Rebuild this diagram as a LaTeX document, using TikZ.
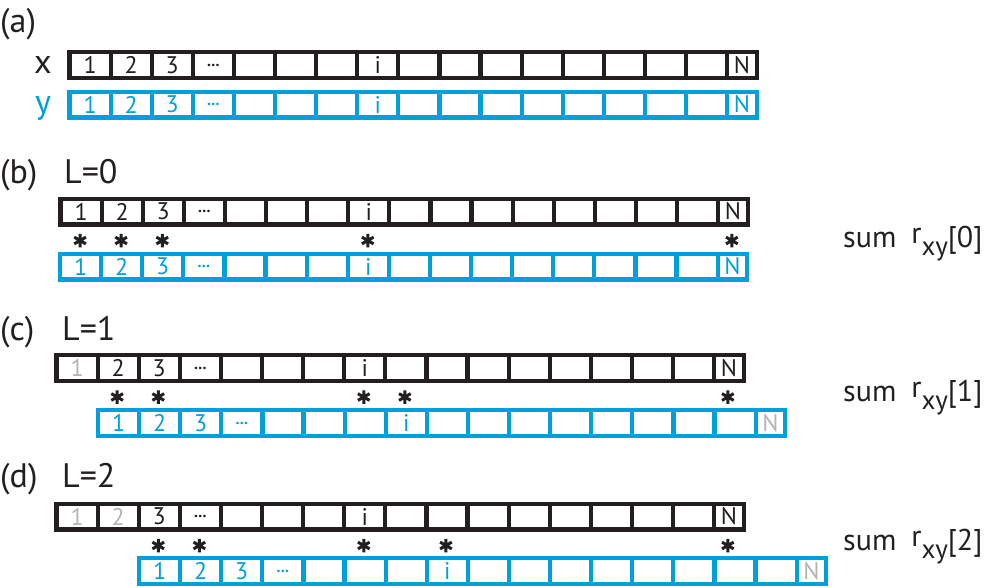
\documentclass[tikz,border=0pt]{standalone}
\usepackage{fontspec}
\setmainfont{PT Sans}
\usepackage{tikz}
\usetikzlibrary{calc,positioning}

\definecolor{darkline}{RGB}{35,31,32}
\definecolor{blueline}{RGB}{0,160,218}
\definecolor{gone}{RGB}{180,180,180}

\newcommand{\celldots}{{\fontsize{16}{16}\selectfont\bfseries...}}
\newcommand{\rxy}[1]{\raisebox{4pt}{r}\raisebox{-8pt}{\fontsize{27}{30}\selectfont xy}[#1]}

\begin{document}
\begin{tikzpicture}[
        %pixel units, y pointing down
        x=1pt, y=-1pt,
        cell/.style={draw, rectangle, line width=4.2pt, inner sep=0pt, outer sep=0pt,
            minimum width=41.1pt, minimum height=25.8pt, fill=white,
            font=\fontsize{24}{28}\selectfont},
        xcell/.style={cell, draw=darkline, text=darkline},
        ycell/.style={cell, draw=blueline, text=blueline},
        ncell/.style={minimum width=29.5pt},
        lbl/.style={inner sep=0pt, text=darkline, font=\fontsize{34}{38}\selectfont},
        sumlbl/.style={lbl, anchor=base west, font=\fontsize{30}{34}\selectfont},
        star/.style={circle, inner sep=0pt, outer sep=0pt, minimum size=13.5pt},
        starline/.style={draw=darkline, line width=3pt}
     ]
    \useasboundingbox (0,0) rectangle (987,587);

    % (a) the two signals
    \node[lbl, anchor=base west] (alab) at (0,32) {(a)};
    \node[lbl, anchor=base] (xlab) at (43,73) {x};
    \node[lbl, anchor=base, text=blueline] (ylab) at (43,113) {y};
    \coordinate (ax0) at (69.5,65);
    \coordinate (ay0) at (69.5,104.5);
    \foreach \t [count=\k] in {1,2,3,\celldots,{},{},{},i,{},{},{},{},{},{},{},{}} {
        \node[xcell] (ax\k) at ($(ax0)+({(\k-0.5)*41.1},0)$) {\t};
        \node[ycell] (ay\k) at ($(ay0)+({(\k-0.5)*41.1},0)$) {\t};
    }
    \node[xcell, ncell, right=0pt of ax16] (ax17) {N};
    \node[ycell, ncell, right=0pt of ay16] (ay17) {N};

    % (b) L=0
    \node[lbl, anchor=base west] (blab) at (0,183) {(b)};
    \node[lbl, anchor=base west] (bL) at (64,183) {L=0};
    \coordinate (bx0) at (60.5,211.5);
    \coordinate (by0) at (60,266.5);
    \foreach \t [count=\k] in {1,2,3,\celldots,{},{},{},i,{},{},{},{},{},{},{},{}} {
        \node[xcell] (bx\k) at ($(bx0)+({(\k-0.5)*41.1},0)$) {\t};
        \node[ycell] (by\k) at ($(by0)+({(\k-0.5)*41.1},0)$) {\t};
    }
    \node[xcell, ncell, right=0pt of bx16] (bx17) {N};
    \node[ycell, ncell, right=0pt of by16] (by17) {N};
    \foreach \k in {1,2,3,8,17} {
        \node[star] (bs\k) at ($(bx\k)+(-1,29)$) {};
        \draw[starline] (bs\k.90) -- (bs\k.270) (bs\k.30) -- (bs\k.210) (bs\k.150) -- (bs\k.330);
    }
    \node[sumlbl] (bsum) at (843,247) {sum\hspace{15pt}\rxy{0}};

    % (c) L=1
    \node[lbl, anchor=base west] (clab) at (0,340) {(c)};
    \node[lbl, anchor=base west] (cL) at (62,340) {L=1};
    \coordinate (cx0) at (56.5,368);
    \coordinate (cy0) at (98,423);
    \foreach \t [count=\k] in {{\color{gone}1},2,3,\celldots,{},{},{},i,{},{},{},{},{},{},{},{}}
        \node[xcell] (cx\k) at ($(cx0)+({(\k-0.5)*41.1},0)$) {\t};
    \foreach \t [count=\k] in {1,2,3,\celldots,{},{},{},i,{},{},{},{},{},{},{},{}}
        \node[ycell] (cy\k) at ($(cy0)+({(\k-0.5)*41.1},0)$) {\t};
    \node[xcell, ncell, right=0pt of cx16] (cx17) {N};
    \node[ycell, ncell, text=gone, right=0pt of cy16] (cy17) {N};
    \foreach \k in {2,3,8,9,17} {
        \node[star] (cs\k) at ($(cx\k)+(-1,29)$) {};
        \draw[starline] (cs\k.90) -- (cs\k.270) (cs\k.30) -- (cs\k.210) (cs\k.150) -- (cs\k.330);
    }
    \node[sumlbl] (csum) at (843,401) {sum\hspace{15pt}\rxy{1}};

    % (d) L=2
    \node[lbl, anchor=base west] (dlab) at (0,487) {(d)};
    \node[lbl, anchor=base west] (dL) at (62,487) {L=2};
    \coordinate (dx0) at (56.5,516.5);
    \coordinate (dy0) at (139,571);
    \foreach \t [count=\k] in {{\color{gone}1},{\color{gone}2},3,\celldots,{},{},{},i,{},{},{},{},{},{},{},{}}
        \node[xcell] (dx\k) at ($(dx0)+({(\k-0.5)*41.1},0)$) {\t};
    \foreach \t [count=\k] in {1,2,3,\celldots,{},{},{},i,{},{},{},{},{},{},{},{}}
        \node[ycell] (dy\k) at ($(dy0)+({(\k-0.5)*41.1},0)$) {\t};
    \node[xcell, ncell, right=0pt of dx16] (dx17) {N};
    \node[ycell, ncell, text=gone, right=0pt of dy16] (dy17) {N};
    \foreach \k in {3,4,8,10,17} {
        \node[star] (ds\k) at ($(dx\k)+(-1,29)$) {};
        \draw[starline] (ds\k.90) -- (ds\k.270) (ds\k.30) -- (ds\k.210) (ds\k.150) -- (ds\k.330);
    }
    \node[sumlbl] (dsum) at (843,550) {sum\hspace{15pt}\rxy{2}};
\end{tikzpicture}
\end{document}
